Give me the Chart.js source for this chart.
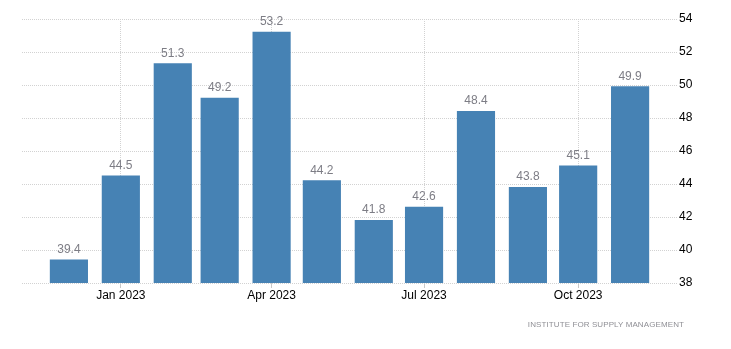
<!DOCTYPE html>
<html>
<head>
<meta charset="utf-8">
<script src="https://cdn.jsdelivr.net/npm/chart.js@4/dist/chart.umd.min.js"></script>
<style>
  html, body { margin: 0; padding: 0; background: #fff; }
  #wrap { position: relative; width: 731px; height: 349px; }
  #source {
    position: absolute; right: 47px; top: 320px;
    font: 8px "Liberation Sans", Arial, sans-serif;
    letter-spacing: 0.1px; color: #8f8f95; white-space: nowrap;
  }
</style>
</head>
<body>
<div id="wrap">
  <canvas id="c" width="731" height="349"></canvas>
  <div id="source">INSTITUTE FOR SUPPLY MANAGEMENT</div>
</div>
<script>
// Monthly index readings, Dec 2022 - Nov 2023
const months = ["2022-12", "2023-01", "2023-02", "2023-03", "2023-04", "2023-05",
                "2023-06", "2023-07", "2023-08", "2023-09", "2023-10", "2023-11"];
const values = [39.4, 44.5, 51.3, 49.2, 53.2, 44.2, 41.8, 42.6, 48.4, 43.8, 45.1, 49.9];
const tickMonths = ["2023-01", "2023-04", "2023-07", "2023-10"];
const tickLabels = ["Jan 2023", "Apr 2023", "Jul 2023", "Oct 2023"];
const xRange = ["2022-11-03", "2023-11-29"];

// day offsets from 1 Jan 2023 so the x axis is proportional to time
const origin = Date.UTC(2023, 0, 1);
function dayOf(s) {
  const p = s.split("-").map(Number);
  return Math.round((Date.UTC(p[0], p[1] - 1, p[2] || 1) - origin) / 86400000);
}
const points = months.map((m, i) => ({ x: dayOf(m), y: values[i] }));
const tickDays = tickMonths.map(dayOf);

const gridColor = "#d2d2d2";

const valueLabels = {
  id: "valueLabels",
  afterDatasetsDraw(chart) {
    const ctx = chart.ctx;
    const meta = chart.getDatasetMeta(0);
    ctx.save();
    ctx.font = '12px "Liberation Sans", Arial, sans-serif';
    ctx.fillStyle = "#7d7d85";
    ctx.textAlign = "center";
    ctx.textBaseline = "alphabetic";
    meta.data.forEach((bar, i) => {
      ctx.fillText(values[i].toFixed(1), bar.x, bar.y - 7);
    });
    ctx.restore();
  }
};

new Chart(document.getElementById("c"), {
  type: "bar",
  data: {
    datasets: [{
      data: points,
      backgroundColor: "#4682b4",
      borderWidth: 0,
      barThickness: 37.5,
      grouped: false
    }]
  },
  options: {
    responsive: false,
    animation: false,
    layout: { padding: { left: 22, top: 19, right: 0, bottom: 0 } },
    plugins: { legend: { display: false }, tooltip: { enabled: false } },
    scales: {
      x: {
        type: "linear",
        offset: false,
        min: dayOf(xRange[0]),
        max: dayOf(xRange[1]),
        afterBuildTicks(scale) { scale.ticks = tickDays.map(v => ({ value: v })); },
        afterFit(scale) { scale.height = 66; },
        ticks: {
          autoSkip: false,
          maxRotation: 0,
          padding: 0,
          color: "#000",
          font: { family: '"Liberation Sans", Arial, sans-serif', size: 12 },
          callback(value) {
            const i = tickDays.indexOf(value);
            return i >= 0 ? tickLabels[i] : "";
          }
        },
        grid: {
          offset: false,
          color: gridColor,
          tickLength: 5,
          tickBorderDash: [],
          tickColor: "#c8c8c8"
        },
        border: { display: false, dash: [1, 1] }
      },
      y: {
        position: "right",
        min: 38,
        max: 54,
        afterFit(scale) { scale.width = 54; },
        ticks: {
          stepSize: 2,
          padding: 2,
          color: "#000",
          font: { family: '"Liberation Sans", Arial, sans-serif', size: 12 }
        },
        grid: { color: gridColor, drawTicks: false },
        border: { display: false, dash: [1, 1] }
      }
    }
  },
  plugins: [valueLabels]
});
</script>
</body>
</html>
